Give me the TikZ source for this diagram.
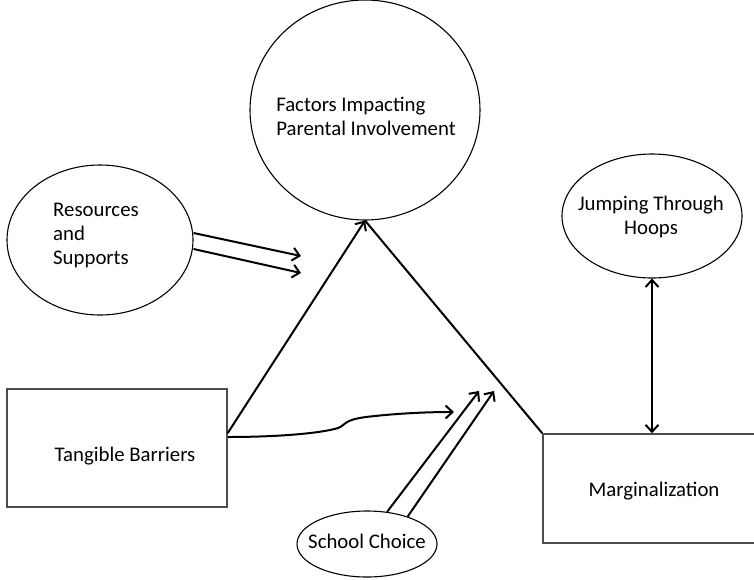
\documentclass[tikz,border=0pt]{standalone}
\usepackage{fontspec}
\setmainfont{Carlito}
\usetikzlibrary{arrows.meta,shapes.geometric}

\begin{document}
\begin{tikzpicture}[
  x=1pt,y=-1pt,
  font=\fontsize{20.8}{24}\selectfont,
  oval/.style={draw,ellipse,line width=1.1pt,inner sep=0pt},
  box/.style={draw=black!70,line width=1.5pt,inner sep=0pt},
  txt/.style={inner sep=0pt,align=left},
  link/.style={line width=2pt,-{Straight Barb[length=7pt,width=13pt]}},
  twoway/.style={line width=2pt,{Straight Barb[length=7pt,width=13pt]}-{Straight Barb[length=7pt,width=13pt]}}
]
\useasboundingbox (0,0) rectangle (754,579);
\clip (0,0) rectangle (754,579);

% shapes
\node[oval,minimum width=230,minimum height=220] (fac) at (365,110) {};
\node[oval,minimum width=186,minimum height=150] (res) at (100,240) {};
\node[oval,minimum width=180,minimum height=124] (jump) at (652,216) {};
\node[oval,minimum width=140,minimum height=66] (school) at (367,544) {};
\node[box,minimum width=220,minimum height=118] (tang) at (117,448) {};
\node[box,minimum width=218,minimum height=109] (marg) at (652,488.5) {};

% texts
\node[txt] (fac-t) at (366,116) {Factors Impacting\\Parental Involvement};
\node[txt,anchor=west] (res-t) at (53,235) {Resources\\and\\Supports};
\node[txt,align=center] (jump-t) at (651,217) {Jumping Through\\Hoops};
\node[txt] (school-t) at (367,541) {School Choice};
\node[txt] (tang-t) at (125,456) {Tangible Barriers};
\node[txt] (marg-t) at (654,491) {Marginalization};

% free ends
\coordinate (resA) at (301,256);
\coordinate (resB) at (301,273);
\coordinate (schA) at (479,391);
\coordinate (schB) at (494,391);
\coordinate (tangC) at (454,412);

% connectors
\draw[link] ([yshift=15pt]tang.east) -- (fac.south);
\draw[line width=2pt] (fac.south) -- (marg.north west);
\draw[link] ([yshift=7pt]res.east) -- (resA);
\draw[link] ([yshift=-9pt]res.east) -- (resB);
\draw[link] (school.58) -- (schA);
\draw[link] (school.34) -- (schB);
\draw[link] ([yshift=11pt]tang.east) .. controls (280,437) and (322,433) .. (338,428)
  .. controls (346,425) and (343,420) .. (366,417)
  .. controls (400,413) and (430,412) .. (tangC);
\draw[twoway] (jump.south) -- (marg.north);
\end{tikzpicture}
\end{document}
